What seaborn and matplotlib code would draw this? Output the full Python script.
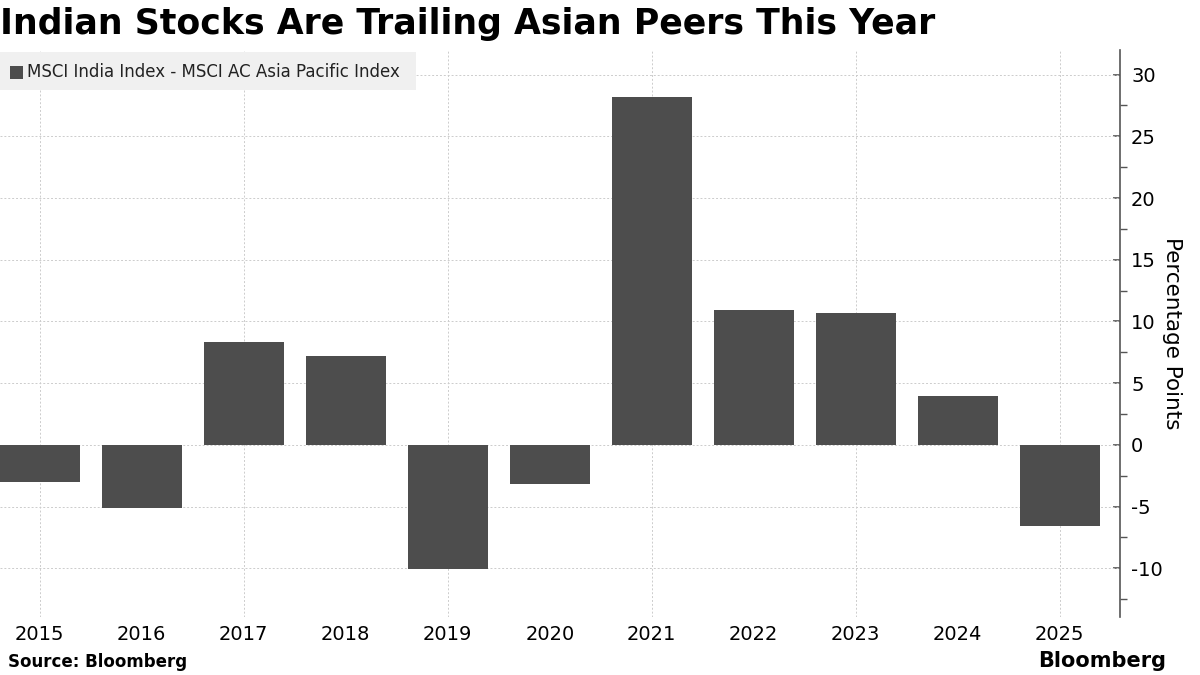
import matplotlib
matplotlib.use("Agg")
import matplotlib.pyplot as plt
import seaborn as sns
import pandas as pd
from matplotlib.ticker import MultipleLocator
from matplotlib.patches import Rectangle

# data
years = ["2015", "2016", "2017", "2018", "2019", "2020", "2021", "2022", "2023", "2024", "2025"]
spread = [-3.0, -5.1, 8.3, 7.2, -10.1, -3.2, 28.2, 10.9, 10.7, 3.95, -6.6]
series_name = "MSCI India Index - MSCI AC Asia Pacific Index"

df = pd.DataFrame({"year": years, "spread": spread})

sns.set_theme(style="white")
plt.rcParams["font.family"] = ["DejaVu Sans"]
plt.rcParams["axes.unicode_minus"] = False
plt.rcParams["text.color"] = "black"

fig = plt.figure(figsize=(12, 6.75), dpi=100)
ax = fig.add_axes([0.0, 0.086, 0.9333, 0.840])

bar_color = "#4d4d4d"
sns.barplot(data=df, x="year", y="spread", color=bar_color, width=0.78,
            saturation=1, linewidth=0, ax=ax, zorder=3)

ax.set_xlim(-0.39, 10.59)
ax.set_ylim(-13.95, 32.0)

# grid
for y in range(-10, 35, 5):
    ax.axhline(y, color="#cccccc", lw=0.7, ls=(0, (2, 2)), zorder=1)
for i in range(0, len(years), 2):
    ax.axvline(i, color="#cccccc", lw=0.7, ls=(0, (2, 2)), zorder=1)

# axes styling
for s in ["top", "left", "bottom"]:
    ax.spines[s].set_visible(False)
ax.spines["right"].set_color("#555555")
ax.spines["right"].set_linewidth(1.2)

ax.yaxis.tick_right()
ax.yaxis.set_label_position("right")
ax.yaxis.set_major_locator(MultipleLocator(5))
ax.yaxis.set_minor_locator(MultipleLocator(2.5))
ax.tick_params(axis="y", which="major", direction="in", length=5, width=1.2,
               colors="#555555", labelcolor="black", labelsize=14, pad=8)
ax.tick_params(axis="y", which="minor", direction="out", length=5, width=1,
               colors="#555555")
ax.tick_params(axis="x", length=0, labelsize=14, labelcolor="black", pad=6)
ax.set_xlabel("")
ax.set_ylabel("Percentage Points", fontsize=15.5, rotation=-90, labelpad=14,
              color="black")

# legend box
fig.patches.append(Rectangle((0.0, 1 - 90 / 675), 416 / 1200, 38 / 675,
                             transform=fig.transFigure, facecolor="#f0f0f0",
                             edgecolor="none", zorder=5))
fig.patches.append(Rectangle((10 / 1200, 1 - 79 / 675), 13 / 1200, 13 / 675,
                             transform=fig.transFigure, facecolor=bar_color,
                             edgecolor="none", zorder=6))
fig.text(27 / 1200, 1 - 72 / 675, series_name, fontsize=12, va="center",
         ha="left", color="#222222", zorder=7)

# title and footer
fig.text(0.0, 1 - 24 / 675, "Indian Stocks Are Trailing Asian Peers This Year",
         fontsize=25, fontweight="heavy", va="center", ha="left", color="black")
fig.text(0.007, 1 - 662 / 675, "Source: Bloomberg", fontsize=12, fontweight="bold",
         va="center", ha="left", color="black")
fig.text(0.972, 1 - 661 / 675, "Bloomberg", fontsize=15, fontweight="bold",
         va="center", ha="right", color="black")

fig.savefig("out.png", dpi=100)
